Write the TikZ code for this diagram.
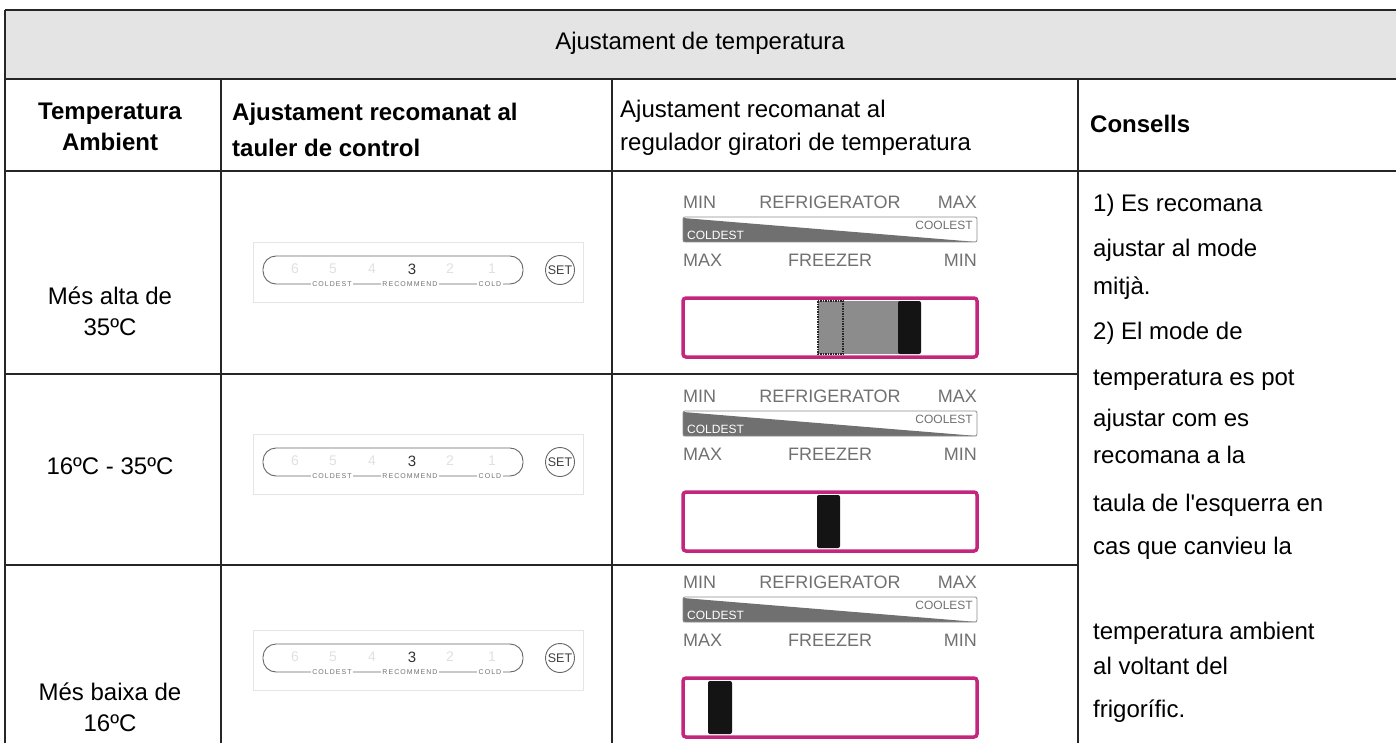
\documentclass[tikz,border=0pt]{standalone}
\usepackage{fontspec}
\setmainfont{Liberation Sans}
\usetikzlibrary{positioning}
\definecolor{hdrgray}{HTML}{E4E4E4}
\definecolor{pinkedge}{HTML}{C4267D}
\definecolor{scalegray}{HTML}{707070}
\tikzset{
  gridline/.style={line width=2.2pt, black!85},
  tabtxt/.style={font=\fontsize{24}{29}\selectfont, inner sep=0pt, text height=17pt, text depth=5pt},
  boldtxt/.style={tabtxt, font=\fontsize{24}{29}\selectfont\bfseries},
  dialtxt/.style={font=\fontsize{18}{20}\selectfont, text=scalegray, inner sep=0pt},
  wedgetxt/.style={font=\fontsize{12}{13}\selectfont, inner sep=0pt},
  panelframe/.style={draw=black!10, line width=0.6pt},
  pilledge/.style={draw=black!60, line width=0.9pt, rounded corners=13pt},
  pilllabel/.style={font=\fontsize{7}{8}\selectfont\addfontfeatures{LetterSpace=15}, text=black!55, fill=white, inner sep=1.5pt},
  faintdigit/.style={font=\fontsize{14}{15}\selectfont, text=black!12, inner sep=0pt},
  keydigit/.style={font=\fontsize{15}{16}\selectfont, text=black!80, inner sep=0pt},
  setbutton/.style={circle, draw=black!60, line width=0.9pt, minimum size=29pt, inner sep=0pt,
    font=\fontsize{12.5}{13}\selectfont, text=black!75},
  pinkbox/.style={draw=pinkedge, line width=3.5pt, rounded corners=3pt},
  knob/.style={fill=black!92, rounded corners=2pt}
}
% control panel, #1 = name prefix, #2 = y of the pill centre
\newcommand{\ctrlpanel}[2]{%
  \begin{scope}[shift={(418,#2)}]
    \draw[panelframe] (-165,-28) rectangle (165,32);
    \draw[pilledge] (-155,-14) rectangle (105,14);
    \foreach \dx/\dg in {-123/6,-85/5,-46/4,32/2,74/1}
      \node[faintdigit] (#1-d\dg) at (\dx,-1) {\dg};
    \node[keydigit] (#1-d3) at (-6,-1) {3};
    \node[pilllabel] (#1-coldest) at (-86,14) {COLDEST};
    \node[pilllabel] (#1-recom) at (-8,14) {RECOMMEND};
    \node[pilllabel] (#1-cold) at (72,14) {COLD};
    \node[setbutton] (#1-set) at (142,0) {SET};
  \end{scope}}
% rotary scale, #1 = name prefix, #2 = y of the upper labels
\newcommand{\dialscale}[2]{%
  \begin{scope}[shift={(683,#2)}]
    \node[dialtxt, anchor=west] (#1-fmin) at (0,0) {MIN};
    \node[dialtxt] (#1-fridge) at (147,0) {REFRIGERATOR};
    \node[dialtxt, anchor=east] (#1-fmax) at (294,0) {MAX};
    \fill[scalegray] (0,16) -- (294,40) -- (0,40) -- cycle;
    \draw[black!45, line width=0.8pt, rounded corners=2pt] (0,15) rectangle (294,40);
    \node[wedgetxt, white, anchor=west] (#1-coldest) at (4,33) {COLDEST};
    \node[wedgetxt, scalegray, anchor=east] (#1-coolest) at (290,23) {COOLEST};
    \node[dialtxt, anchor=west] (#1-zmax) at (0,58) {MAX};
    \node[dialtxt] (#1-freezer) at (147,58) {FREEZER};
    \node[dialtxt, anchor=east] (#1-zmin) at (294,58) {MIN};
    \draw[pinkbox] (0,96) rectangle (294,155);
  \end{scope}}

\begin{document}
\begin{tikzpicture}[x=1pt,y=-1pt]
  \useasboundingbox (0,0) rectangle (1396,743);

  % header band
  \fill[hdrgray] (5,10) rectangle (1396,79);
  \node[tabtxt] (title) at (700,44) {Ajustament de temperatura};

  % table rules
  \draw[gridline] (5,10) -- (1396,10);
  \draw[gridline] (5,79) -- (1396,79);
  \draw[gridline] (5,171) -- (1396,171);
  \draw[gridline] (5,374) -- (1078,374);
  \draw[gridline] (5,565) -- (1078,565);
  \draw[gridline] (5,10) -- (5,743);
  \foreach \colx in {221,612,1078}
    \draw[gridline] (\colx,79) -- (\colx,743);

  % column heads
  \node[boldtxt] (ambhead) at (110,114) {Temperatura};
  \node[boldtxt, below=8pt of ambhead] (ambhead2) {Ambient};
  \node[boldtxt, anchor=west] (panelhead) at (232,115) {Ajustament recomanat al};
  \node[boldtxt, below=13pt of panelhead.south west, anchor=north west] (panelhead2) {tauler de control};
  \node[tabtxt, anchor=west] (dialhead) at (620,112) {Ajustament recomanat al};
  \node[tabtxt, below=10pt of dialhead.south west, anchor=north west] (dialhead2) {regulador giratori de temperatura};
  \node[boldtxt, anchor=west] (tiphead) at (1090,127) {Consells};

  % ambient temperature
  \node[tabtxt] (amb1) at (110,298) {Més alta de};
  \node[tabtxt, below=9pt of amb1] (amb1b) {35ºC};
  \node[tabtxt] (amb2) at (110,468) {16ºC - 35ºC};
  \node[tabtxt] (amb3) at (110,694) {Més baixa de};
  \node[tabtxt, below=9pt of amb3] (amb3b) {16ºC};

  % control panels
  \ctrlpanel{hot}{270}
  \ctrlpanel{mid}{462}
  \ctrlpanel{low}{658}

  % rotary scales
  \dialscale{hotdial}{202}
  \dialscale{middial}{396}
  \dialscale{lowdial}{582}

  % slider positions
  \fill[black!45] (818,301) rectangle (900,354);
  \draw[black!85, line width=1.5pt, densely dotted] (818,301) rectangle (843,354);
  \fill[knob] (898,301) rectangle (921,354);
  \fill[knob] (817,495) rectangle (840,548);
  \fill[knob] (708,681) rectangle (732,734);

  % advice
  \foreach \ty/\tline [count=\ti] in {206/{1) Es recomana}, 251/{ajustar al mode}, 288/{mitjà.},
      333/{2) El mode de}, 379/{temperatura es pot}, 420/{ajustar com es}, 457/{recomana a la},
      505/{taula de l\textquotesingle esquerra en}, 548/{cas que canvieu la},
      633/{temperatura ambient}, 668/{al voltant del}, 711/{frigorífic.}}
    \node[tabtxt, anchor=west] (tip\ti) at (1093,\ty) {\tline};
\end{tikzpicture}
\end{document}
